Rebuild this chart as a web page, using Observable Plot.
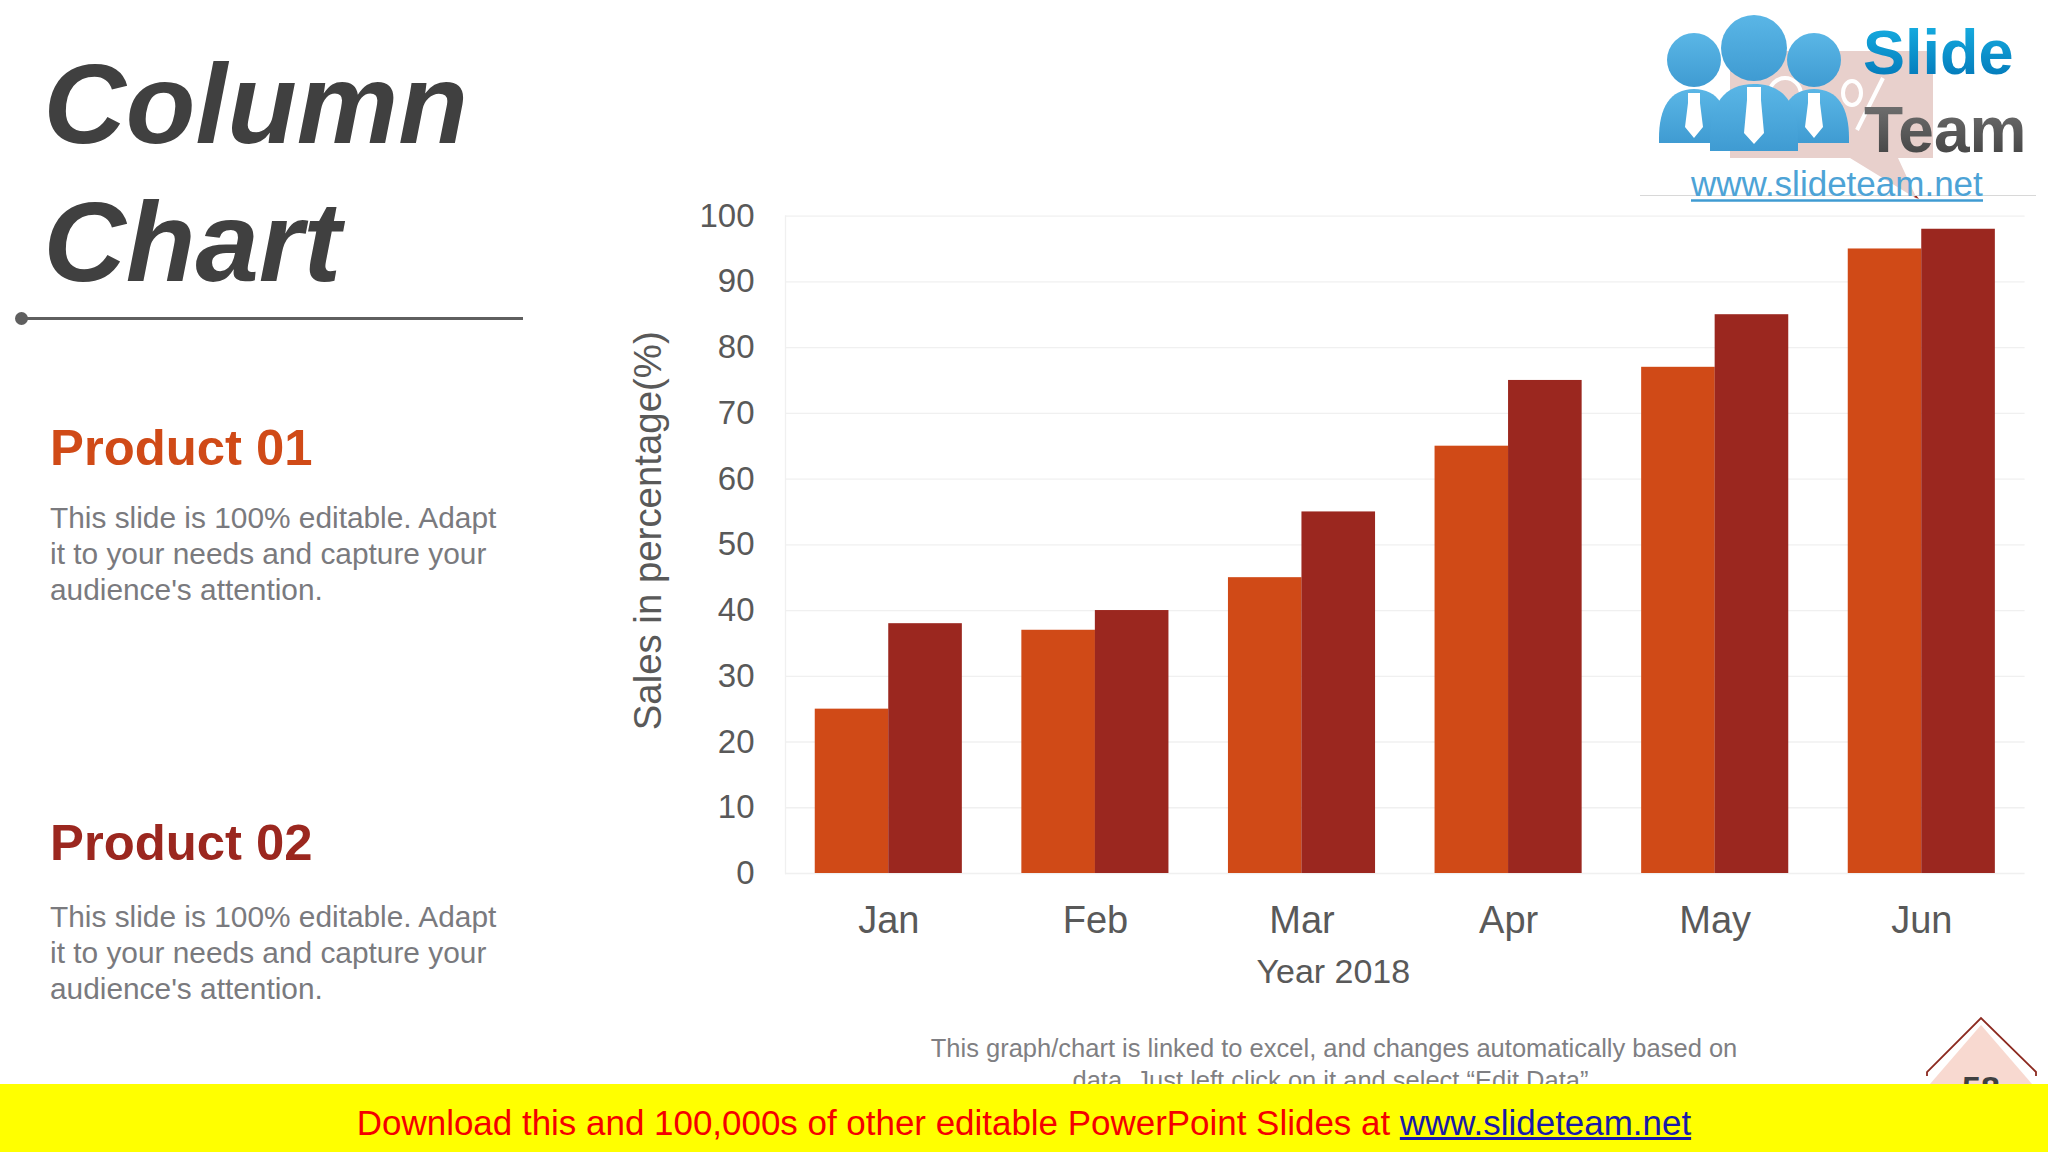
<!DOCTYPE html>
<html><head><meta charset="utf-8">
<script src="https://cdn.jsdelivr.net/npm/d3@7"></script>
<script src="https://cdn.jsdelivr.net/npm/@observablehq/plot@0.6"></script>
<style>
html,body{margin:0;padding:0;background:#fff;width:2048px;height:1152px;overflow:hidden;font-family:"Liberation Sans",Arial,sans-serif}
.t{position:absolute;white-space:nowrap;margin:0}
#chart{position:absolute;left:600px;top:190px}
#logo{position:absolute;left:1600px;top:0}
#page{position:absolute;left:1900px;top:1000px}
h1.t{font-size:114px;font-weight:bold;font-style:italic;color:#404040;left:43.5px;line-height:138px;top:34.5px}
.head{font-size:50.8px;font-weight:bold;left:50px;line-height:60px}
.body{font-size:29.85px;color:#7a7a7e;left:50px;line-height:36px}
#rule{position:absolute;left:22px;top:317px;width:501px;height:2.5px;background:#5f5f5f}
#dot{position:absolute;left:15px;top:312px;width:13px;height:13px;border-radius:50%;background:#5f5f5f}
#foot{font-size:25.5px;color:#7f7f83;left:834px;width:1000px;text-align:center;line-height:32px;top:1032px}
#banner{position:absolute;left:0;top:1084px;width:2048px;height:68px;background:#ffff00;text-align:center;font-size:34.95px;line-height:78px;color:#f40000}
#banner span{color:#1a1aa8;text-decoration:underline}
</style></head><body>
<h1 class="t">Column<br>Chart</h1>
<div id="rule"></div><div id="dot"></div>
<div class="t head" style="top:418px;color:#d04a17">Product 01</div>
<div class="t body" style="top:500px">This slide is 100% editable. Adapt<br>it to your needs and capture your<br>audience's attention.</div>
<div class="t head" style="top:813px;color:#9b271f">Product 02</div>
<div class="t body" style="top:899px">This slide is 100% editable. Adapt<br>it to your needs and capture your<br>audience's attention.</div>
<div id="chart"></div>
<svg id="logo" width="448" height="260" viewBox="1600 0 448 260">
  <defs>
    <linearGradient id="gs" x1="0" y1="0" x2="0" y2="1"><stop offset="0" stop-color="#19b4e6"/><stop offset="1" stop-color="#0072b4"/></linearGradient>
    <linearGradient id="gt" x1="0" y1="0" x2="0" y2="1"><stop offset="0" stop-color="#777"/><stop offset="1" stop-color="#3e3e3e"/></linearGradient>
    <linearGradient id="gb" x1="0" y1="0" x2="0" y2="1"><stop offset="0" stop-color="#5ab6e6"/><stop offset="1" stop-color="#3f9bd2"/></linearGradient>
  </defs>
  <path d="M1730 51H1933V158H1898L1917 199L1850 158H1730Z" fill="#e8d0cc"/>
  <path d="M1916 195l3 4l-5 -2z" fill="#9b271f"/>
  <line x1="1640" y1="195.500" x2="2036" y2="195.500" stroke="#d8d8d8"/>
  <g fill="none" stroke="#fff" stroke-width="4">
    <ellipse cx="1785" cy="95" rx="16" ry="17"/>
    <ellipse cx="1852" cy="93" rx="9" ry="12"/>
    <line x1="1883" y1="78" x2="1857" y2="130"/>
  </g>
  <g fill="url(#gb)">
    <circle cx="1694" cy="60" r="27"/><circle cx="1814" cy="60" r="27"/>
    <path d="M1659 143V138C1659 108 1670 89 1694 89C1718 89 1729 108 1729 138V143Z"/>
    <path d="M1779 143V138C1779 108 1790 89 1814 89C1838 89 1849 108 1849 138V143Z"/>
    <circle cx="1754" cy="48" r="33"/>
    <path d="M1710 151V140C1710 104 1724 84 1754 84C1784 84 1798 104 1798 140V151Z"/>
  </g>
  <g fill="#fff">
    <path d="M1688 93H1700V103L1703 127L1694 138L1685 127L1688 103Z"/>
    <path d="M1747 87H1761V100L1764 133L1754 144L1744 133L1747 100Z"/>
    <path d="M1808 93H1820V103L1823 127L1814 138L1805 127L1808 103Z"/>
  </g>
  <text x="1863" y="74" font-family="Liberation Sans" font-weight="bold" font-size="63" fill="url(#gs)">Slide</text>
  <text x="1864" y="152" font-family="Liberation Sans" font-weight="bold" font-size="64" fill="url(#gt)">Team</text>
  <text x="1691" y="196" font-family="Liberation Sans" font-size="35" fill="#4da3d6">www.slideteam.net</text>
  <line x1="1691" y1="200.500" x2="1983" y2="200.500" stroke="#3f9bd2" stroke-width="2.500"/>
</svg>
<svg id="page" width="148" height="152" viewBox="1900 1000 148 152">
  <path d="M1981 1018L2036 1073L2036 1090H1927V1073Z" fill="#fff"/>
  <path d="M1981 1025L2032 1084H1930Z" fill="#f8d9d0"/>
  <path d="M1927 1076V1072L1981 1018L2036 1072V1076" fill="none" stroke="#8c2a20" stroke-width="1.800"/>
  <text x="1981" y="1100" text-anchor="middle" font-family="Liberation Sans" font-weight="bold" font-size="34" fill="#404040">58</text>
</svg>
<div class="t" id="foot">This graph/chart is linked to excel, and changes automatically based on<br>data. Just left click on it and select “Edit Data”.</div>
<div id="banner">Download this and 100,000s of other editable PowerPoint Slides at <span>www.slideteam.net</span></div>
<script>
const months = ["Jan","Feb","Mar","Apr","May","Jun"];
const product01 = [25,37,45,65,77,95];
const product02 = [38,40,55,75,85,98];
const yTicks = [0,10,20,30,40,50,60,70,80,90,100];
const yTitle = "Sales in percentage(%)";
const xTitle = "Year 2018";
const rows = months.map((m,i)=>({month:m,p1:product01[i],p2:product02[i]}));
const halfBand = 73.5;
const ink = "#595959";
const chart = Plot.plot({
  width:1448, height:800,
  marginLeft:185, marginRight:23.4, marginTop:25.6, marginBottom:117,
  style:{fontFamily:'"Liberation Sans",Arial,sans-serif',background:"transparent",overflow:"visible"},
  x:{domain:months,paddingInner:.288,paddingOuter:.144,align:.5,round:false,label:null},
  y:{domain:[0,100],label:null},
  marks:[
    Plot.ruleY(yTicks,{stroke:"#f0f0f0",strokeWidth:1.3}),
    Plot.frame({anchor:"left",stroke:"#f0f0f0",strokeWidth:1.3}),
    Plot.barY(rows,{x:"month",y:"p1",fill:"#d04a17",insetRight:halfBand}),
    Plot.barY(rows,{x:"month",y:"p2",fill:"#9b271f",insetLeft:halfBand}),
    Plot.axisY({ticks:yTicks,tickSize:0,tickPadding:31,fontSize:33,color:ink,label:null}),
    Plot.axisX({tickSize:0,tickPadding:33,fontSize:38,color:ink,label:null}),
    Plot.text([xTitle],{frameAnchor:"bottom",dx:-72,dy:109,fontSize:34,fill:ink}),
    Plot.text([yTitle],{frameAnchor:"left",textAnchor:"middle",rotate:-90,dx:-137,dy:-14,fontSize:38.4,fill:ink})
  ]
});
document.getElementById("chart").append(chart);
</script>
</body></html>
